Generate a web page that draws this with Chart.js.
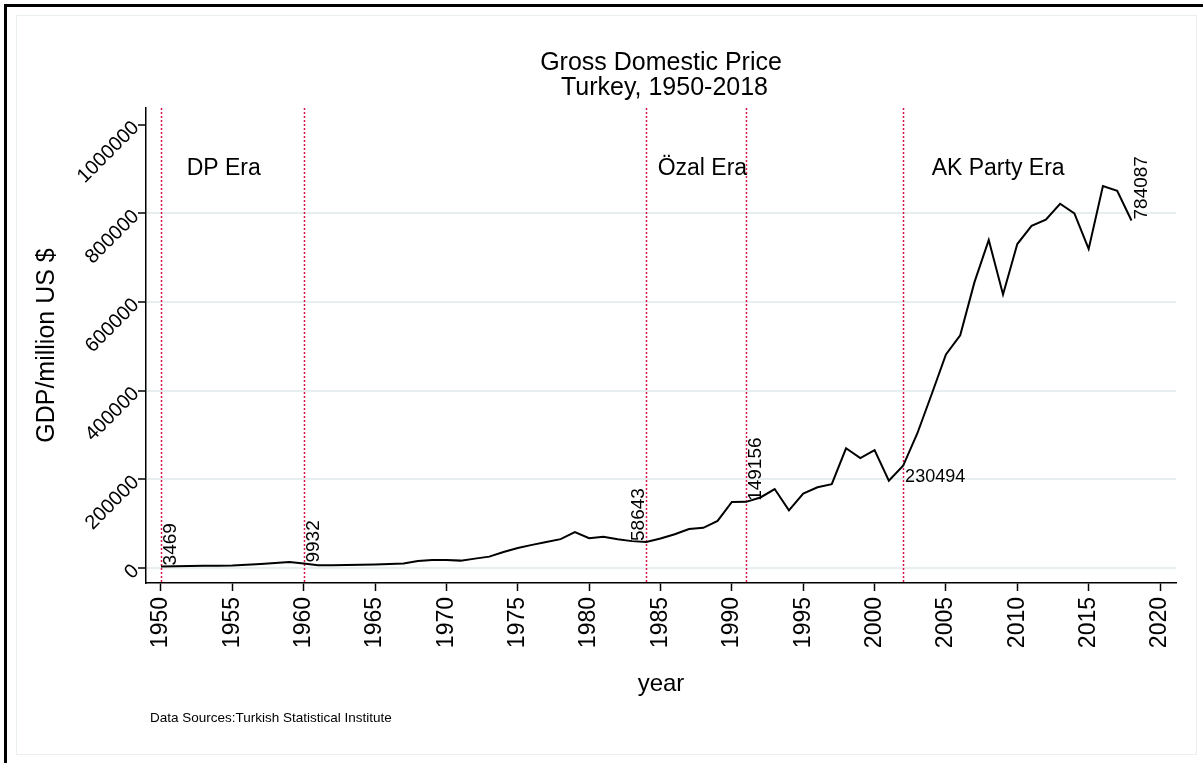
<!DOCTYPE html>
<html lang="en">
<head>
<meta charset="UTF-8">
<title>Gross Domestic Price - Turkey</title>
<script src="https://cdn.jsdelivr.net/npm/chart.js"></script>
<style>
  html, body { margin: 0; padding: 0; background: #fff; }
</style>
</head>
<body>
<canvas id="gdpChart" width="1203" height="763"></canvas>
<script>
// GDP in million US $
const years = [1950,1951,1952,1953,1954,1955,1956,1957,1958,1959,
               1960,1961,1962,1963,1964,1965,1966,1967,1968,1969,
               1970,1971,1972,1973,1974,1975,1976,1977,1978,1979,
               1980,1981,1982,1983,1984,1985,1986,1987,1988,1989,
               1990,1991,1992,1993,1994,1995,1996,1997,1998,1999,
               2000,2001,2002,2003,2004,2005,2006,2007,2008,2009,
               2010,2011,2012,2013,2014,2015,2016,2017,2018];
const gdp = [3469,3800,4200,5000,5100,5400,7000,9000,11000,13500,
             9932,5900,6200,6800,7300,8000,9000,10000,15500,18000,
             18000,16500,21000,25500,36000,45000,52000,58500,65000,81000,
             67000,70500,64500,60500,58643,66500,76000,88000,90500,106000,
             149000,149156,159000,178000,130000,168000,182000,189000,270000,248000,
             266000,197000,230494,304000,392000,482000,525000,645000,740000,617000,
             731000,772000,786000,822000,800000,720000,862000,851000,784087];

const xTicks = [1950,1955,1960,1965,1970,1975,1980,1985,1990,1995,2000,2005,2010,2015,2020];
const yTicks = [0,200000,400000,600000,800000,1000000];

// vertical era markers and their names
const eraLines = [1950,1960,1984,1991,2002];
const eraNames = ['DP Era','Özal Era','AK Party Era'];
const eraStart = [1951.8,1984.8,2004];
// years whose value is written on the graph
const labelYears = [1950,1960,1984,1991,2002,2018];

const FONT = "'Liberation Sans', Arial, Helvetica, sans-serif";

const extras = {
  id: 'extras',
  beforeDraw(chart) {
    const ctx = chart.ctx;
    ctx.save();
    ctx.fillStyle = '#fff';
    ctx.fillRect(0, 0, chart.width, chart.height);
    ctx.strokeStyle = '#e9eff1';
    ctx.lineWidth = 1;
    ctx.strokeRect(16.5, 15.5, 1180, 739);
    ctx.strokeStyle = '#000';
    ctx.lineWidth = 3;
    ctx.beginPath();
    ctx.moveTo(5.5, chart.height);
    ctx.lineTo(5.5, 5.5);
    ctx.lineTo(chart.width, 5.5);
    ctx.stroke();
    ctx.restore();
  },
  beforeDatasetsDraw(chart) {
    const {ctx, chartArea, scales} = chart;
    ctx.save();
    ctx.strokeStyle = '#d8164a';
    ctx.lineWidth = 1.5;
    ctx.setLineDash([2, 2]);
    eraLines.forEach(yr => {
      const x = Math.round(scales.x.getPixelForValue(yr)) + 0.5;
      ctx.beginPath();
      ctx.moveTo(x, chartArea.top);
      ctx.lineTo(x, chartArea.bottom);
      ctx.stroke();
    });
    ctx.restore();
  },
  afterDatasetsDraw(chart) {
    const {ctx, chartArea, scales} = chart;
    ctx.save();
    ctx.fillStyle = '#000';
    // era names
    ctx.font = '23px ' + FONT;
    ctx.textAlign = 'left';
    ctx.textBaseline = 'middle';
    eraNames.forEach((name, i) => {
      ctx.fillText(name, scales.x.getPixelForValue(eraStart[i]), scales.y.getPixelForValue(900000));
    });
    // value labels
    labelYears.forEach(yr => {
      const v = gdp[years.indexOf(yr)];
      const px = scales.x.getPixelForValue(yr);
      const py = scales.y.getPixelForValue(v);
      if (yr === 2002) {
        ctx.font = '18px ' + FONT;
        ctx.textAlign = 'left';
        ctx.textBaseline = 'middle';
        ctx.fillText(String(v), px + 2, py + 11);
      } else {
        ctx.font = '19px ' + FONT;
        ctx.save();
        ctx.translate(yr === 1984 ? px - 7 : px + 10, py - 1);
        ctx.rotate(-Math.PI / 2);
        ctx.textAlign = 'left';
        ctx.textBaseline = 'middle';
        ctx.fillText(String(v), 0, 0);
        ctx.restore();
      }
    });
    // source note
    ctx.font = '13.5px ' + FONT;
    ctx.textAlign = 'left';
    ctx.textBaseline = 'middle';
    ctx.fillText('Data Sources:Turkish Statistical Institute', chartArea.left + 4, 718);
    ctx.restore();
  }
};

new Chart(document.getElementById('gdpChart'), {
  type: 'line',
  data: {
    datasets: [{
      label: 'GDP',
      data: years.map((yr, i) => ({x: yr, y: gdp[i]})),
      borderColor: '#000',
      borderWidth: 2,
      pointRadius: 0,
      tension: 0,
      fill: false
    }]
  },
  options: {
    responsive: false,
    animation: false,
    devicePixelRatio: 1,
    layout: { padding: { left: 8, right: 27, top: 0, bottom: 60 } },
    plugins: {
      legend: { display: false },
      tooltip: { enabled: false },
      title: {
        display: true,
        fullSize: false,
        text: ['Gross Domestic Price', ' Turkey, 1950-2018'],
        color: '#000',
        font: { family: FONT, size: 25, weight: 'normal', lineHeight: 1.0 },
        padding: { top: 50.5, bottom: 7.5 }
      }
    },
    scales: {
      x: {
        type: 'linear',
        min: 1948.95,
        max: 2021.12,
        afterBuildTicks: s => { s.ticks = xTicks.map(v => ({value: v})); },
        afterFit: s => { s.height = 120; },
        border: { display: true, color: '#000', width: 1.5 },
        grid: { drawOnChartArea: false, drawTicks: true, tickLength: 8, tickColor: '#000', tickWidth: 1.5 },
        ticks: {
          color: '#000',
          font: { family: FONT, size: 23 },
          minRotation: 90, maxRotation: 90,
          padding: 6,
          callback: v => String(v)
        },
        title: {
          display: true, text: 'year', color: '#000',
          font: { family: FONT, size: 24 },
          padding: { top: 0, bottom: 4.6 }
        }
      },
      y: {
        type: 'linear',
        min: -34000,
        max: 1038000,
        afterBuildTicks: s => { s.ticks = yTicks.map(v => ({value: v})); },
        afterFit: s => { s.width = 138; },
        border: { display: true, color: '#000', width: 1.5 },
        grid: {
          color: ctx => (ctx.tick && ctx.tick.value === 1000000) ? 'rgba(0,0,0,0)' : '#e6eef0',
          lineWidth: 2,
          tickLength: 8, tickColor: '#000', tickWidth: 1.5
        },
        ticks: {
          color: '#000',
          font: { family: FONT, size: 20 },
          minRotation: 45, maxRotation: 45,
          padding: 2,
          callback: v => String(v)
        },
        title: {
          display: true, text: 'GDP/million US $', color: '#000',
          font: { family: FONT, size: 25 },
          padding: { top: 24, bottom: 0 }
        }
      }
    }
  },
  plugins: [extras]
});
</script>
</body>
</html>
